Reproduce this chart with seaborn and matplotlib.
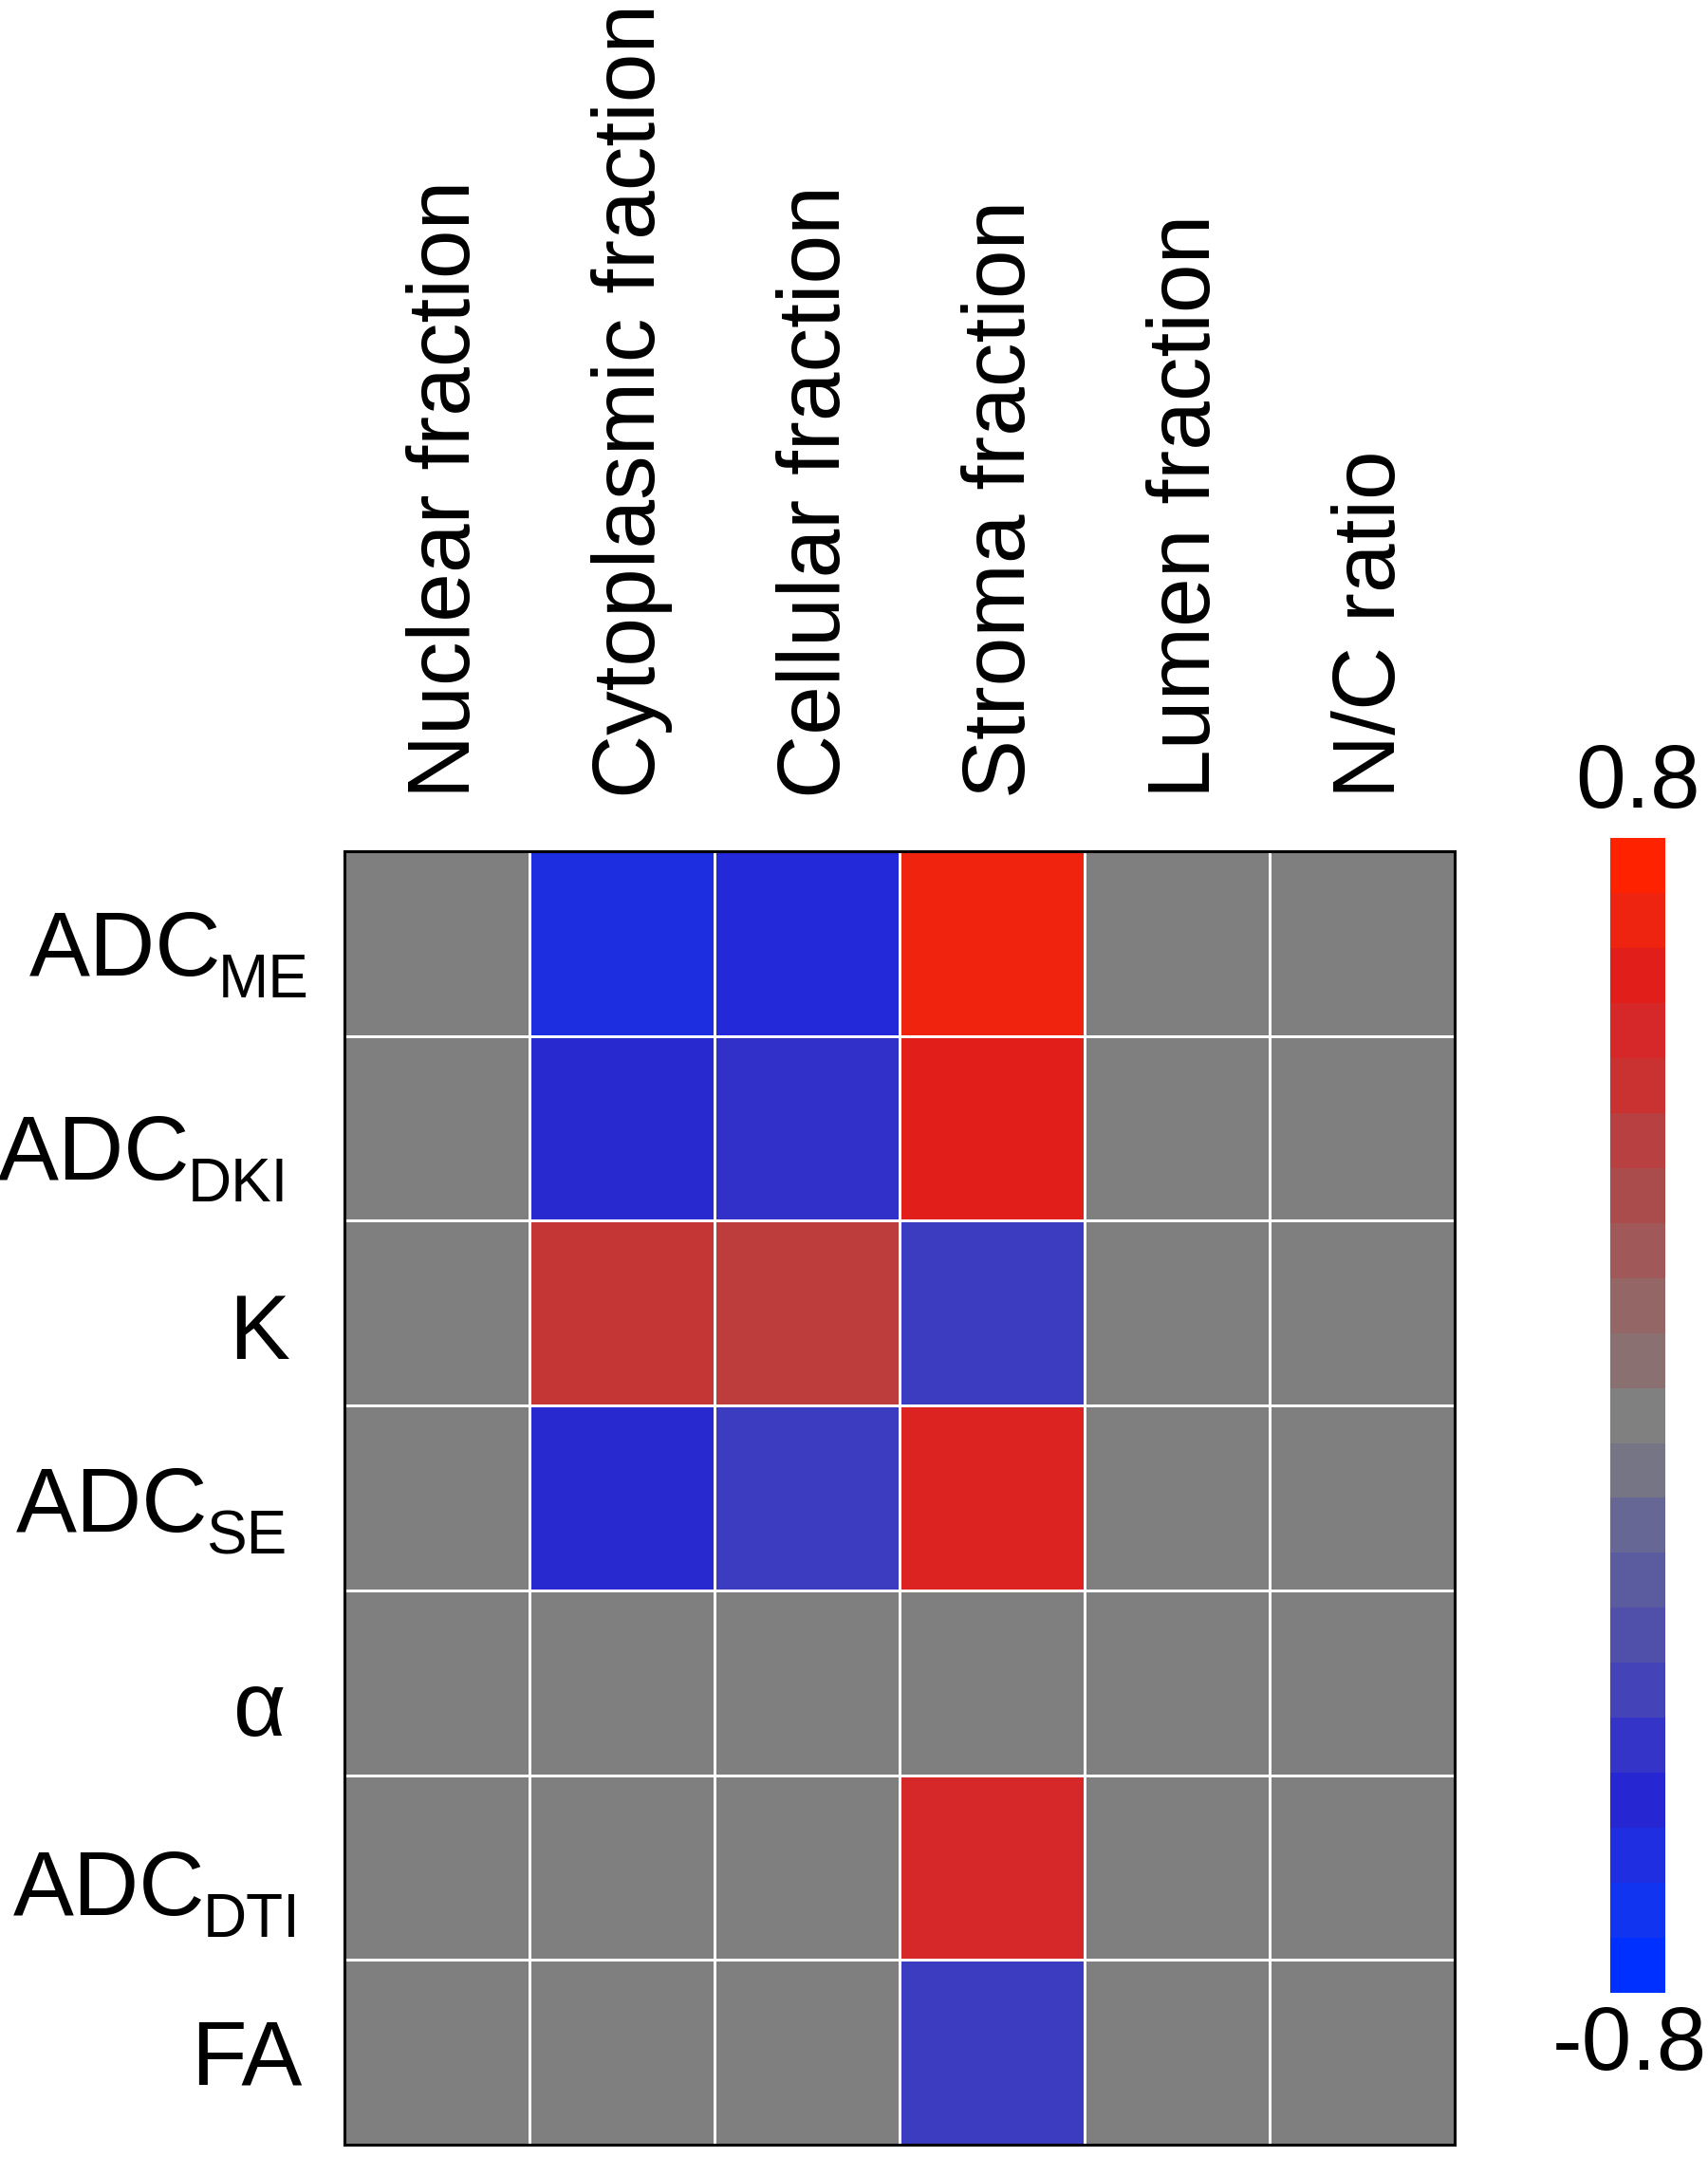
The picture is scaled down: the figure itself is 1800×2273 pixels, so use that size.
import numpy as np
import pandas as pd
import matplotlib
matplotlib.use("Agg")
import matplotlib.pyplot as plt
from matplotlib.colors import LinearSegmentedColormap
from matplotlib.transforms import ScaledTranslation
import seaborn as sns

# rows: diffusion parameters, columns: histology components
row_main = ["ADC", "ADC", "K", "ADC", "α", "ADC", "FA"]
row_sub = ["ME", "DKI", "", "SE", "", "DTI", ""]
col_labels = ["Nuclear fraction", "Cytoplasmic fraction", "Cellular fraction",
              "Stroma fraction", "Lumen fraction", "N/C ratio"]

# correlation coefficients (non-significant shown as 0 -> grey)
nuclear = [0, 0, 0, 0, 0, 0, 0]
cytoplasmic = [-0.64, -0.54, 0.45, -0.54, 0, 0, 0]
cellular = [-0.59, -0.50, 0.42, -0.44, 0, 0, 0]
stroma = [0.73, 0.64, -0.44, 0.60, 0, 0.56, -0.44]
lumen = [0, 0, 0, 0, 0, 0, 0]
nc_ratio = [0, 0, 0, 0, 0, 0, 0]

vmin, vmax = -0.8, 0.8

row_names = [m + s for m, s in zip(row_main, row_sub)]
df = pd.DataFrame({
    col_labels[0]: nuclear,
    col_labels[1]: cytoplasmic,
    col_labels[2]: cellular,
    col_labels[3]: stroma,
    col_labels[4]: lumen,
    col_labels[5]: nc_ratio,
}, index=row_names)

# blue -> grey -> red, as sampled from the colour bar
cmap_colors = ["#0030FF", "#1034F0", "#1E2EE0", "#2626D2", "#3434C8", "#4444B8",
               "#5050AA", "#5B5BA0", "#676795", "#757585", "#808080",
               "#8A7070", "#946666", "#A05858", "#AA4C4C", "#B84040",
               "#CA3232", "#D62828", "#E21E1A", "#EE2410", "#FF2200"]
cmap = LinearSegmentedColormap.from_list("bgr", cmap_colors)

sns.set_style("white")
plt.rcParams["font.family"] = ["Liberation Sans", "DejaVu Sans"]
plt.rcParams["text.color"] = "black"
plt.rcParams["xtick.color"] = "black"
plt.rcParams["ytick.color"] = "black"

fig = plt.figure(figsize=(18, 22.73), dpi=100)
ax = fig.add_axes([0.2017, 0.0057, 0.65, 0.5997])
cax = fig.add_axes([0.943, 0.0761, 0.032, 0.5354])

sns.heatmap(df, ax=ax, cmap=cmap, vmin=vmin, vmax=vmax, cbar=False,
            linewidths=2, linecolor="white")

# discrete colour bar, 21 steps
sm = plt.cm.ScalarMappable(cmap=cmap.resampled(21),
                           norm=plt.Normalize(vmin=vmin, vmax=vmax))
cbar = fig.colorbar(sm, cax=cax)
cbar.set_ticks([])
cbar.outline.set_visible(False)
cax.text(0.5, 1.01, f"{vmax:.1f}", transform=cax.transAxes, ha="center",
         va="bottom", fontsize=68)
cax.text(1.77, -0.01, f"-{abs(vmin):.1f}", transform=cax.transAxes,
         ha="right", va="top", fontsize=68)

# column labels on top
ax.xaxis.tick_top()
ax.set_xticklabels(col_labels, rotation=90, fontsize=67)
ax.tick_params(axis="x", length=0, pad=40)
shift = ScaledTranslation(10 / 100, 0, fig.dpi_scale_trans)
for lbl in ax.get_xticklabels():
    lbl.set_transform(lbl.get_transform() + shift)

# row labels with subscripts, drawn by hand
ax.set_yticks([])
ax.set_xlabel("")
ax.set_ylabel("")
# per-row (right edge, baseline) nudges in pixels, relative to axes left / row centre
label_nudge = [(-37, -34), (-59, -54), (-58, -48), (-61, -36),
               (-62, -56), (-47, -50), (-45, -34)]
renderer = fig.canvas.get_renderer()
for i, (main, sub) in enumerate(zip(row_main, row_sub)):
    dx, dy = label_nudge[i]
    xy = (0, i + 0.5)
    coords = ("axes fraction", "data")
    if sub:
        t_sub = ax.annotate(sub, xy=xy, xycoords=coords, xytext=(dx, dy - 23),
                            textcoords="offset pixels", ha="right",
                            va="baseline", fontsize=46, annotation_clip=False)
        w = t_sub.get_window_extent(renderer).width
        dx = dx - w + 3
    ax.annotate(main, xy=xy, xycoords=coords, xytext=(dx, dy),
                textcoords="offset pixels", ha="right", va="baseline",
                fontsize=69, annotation_clip=False)

for s in ax.spines.values():
    s.set_visible(True)
    s.set_color("black")
    s.set_linewidth(2.2)

fig.savefig("out.png", dpi=100)
